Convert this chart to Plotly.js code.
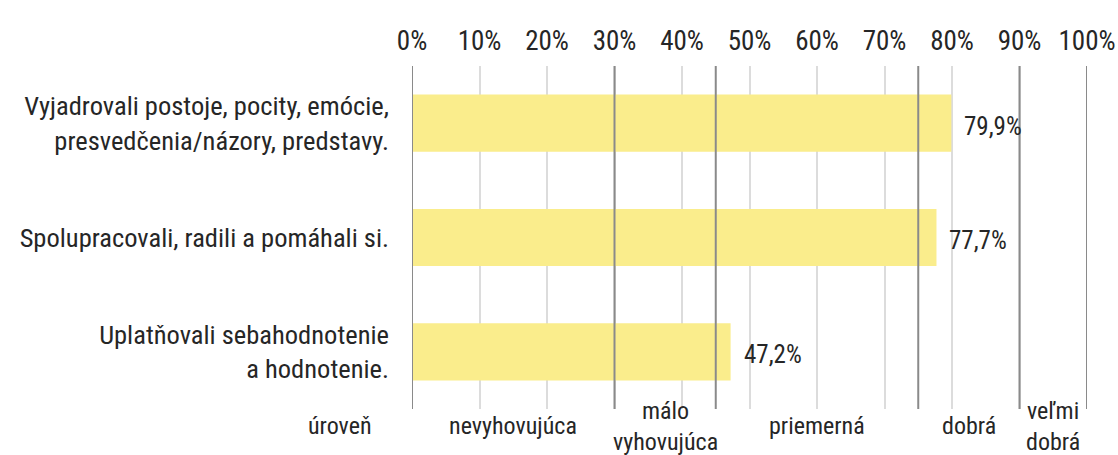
<!DOCTYPE html>
<html>
<head>
<meta charset="utf-8">
<script src="https://cdn.plot.ly/plotly-3.0.1.min.js"></script>
<style>html,body{margin:0;padding:0;background:#fff;}#chart{width:1118px;height:455px;}</style>
</head>
<body>
<div id="chart"></div>
<script>
const categories = [
  "Vyjadrovali postoje, pocity, emócie,<br>presvedčenia/názory, predstavy.",
  "Spolupracovali, radili a pomáhali si.",
  "Uplatňovali sebahodnotenie<br>a hodnotenie."
];
const values = [79.9, 77.7, 47.2];
const valueLabels = ["79,9%", "77,7%", "47,2%"];
const levelBounds = [0, 30, 45, 75, 90, 100];
const levelNames = ["nevyhovujúca", "málo<br>vyhovujúca", "priemerná", "dobrá", "veľmi<br>dobrá"];
const levelTitle = "úroveň";
const xTicks = [0,10,20,30,40,50,60,70,80,90,100];

const FONT = "'Roboto Condensed', 'Liberation Sans Narrow', 'DejaVu Sans Condensed', Roboto, sans-serif";
const TXT = "#262626";

const shapes = levelBounds.map(b => ({
  type: 'line', xref: 'x', yref: 'paper', x0: b, x1: b, y0: 0, y1: 1,
  line: {color: '#8a8a8a', width: 2}, layer: 'above'
}));

const annotations = [];
values.forEach((v, i) => annotations.push({
  x: v, y: categories[i], xref: 'x', yref: 'y', text: valueLabels[i],
  showarrow: false, xanchor: 'left', yanchor: 'middle', xshift: 11, yshift: -3,
  font: {family: FONT, size: 25, color: TXT}
}));
levelNames.forEach((n, i) => annotations.push({
  x: (levelBounds[i] + levelBounds[i+1]) / 2, y: -0.05, xref: 'x', yref: 'paper',
  text: n, showarrow: false, xanchor: 'center', yanchor: 'middle',
  font: {family: FONT, size: 24, color: TXT}
}));
annotations.push({
  x: 0, y: -0.05, xref: 'paper', yref: 'paper', xshift: -38, text: levelTitle, showarrow: false,
  xanchor: 'right', yanchor: 'middle', font: {family: FONT, size: 24, color: TXT}
});

const trace = {
  type: 'bar', orientation: 'h', x: values, y: categories,
  marker: {color: '#FAED8C'}, hoverinfo: 'skip'
};

const layout = {
  width: 1118, height: 455,
  margin: {l: 412, r: 31, t: 66, b: 46},
  paper_bgcolor: '#fff', plot_bgcolor: '#fff',
  bargap: 0.5,
  showlegend: false,
  font: {family: FONT, size: 26, color: TXT},
  xaxis: {
    side: 'top', range: [0, 100], tickvals: xTicks, ticktext: xTicks.map(t => t + '%'),
    showgrid: true, gridcolor: '#dcdcdc', gridwidth: 2, zeroline: false,
    showline: false, ticks: '', ticklabelstandoff: 10,
    tickfont: {family: FONT, size: 27, color: TXT}, fixedrange: true
  },
  yaxis: {
    autorange: 'reversed', showgrid: false, zeroline: false, showline: false,
    ticks: '', ticklabelstandoff: 22,
    tickfont: {family: FONT, size: 26.5, color: TXT}, fixedrange: true
  },
  shapes: shapes,
  annotations: annotations
};

Plotly.newPlot('chart', [trace], layout, {displayModeBar: false, staticPlot: true});
</script>
</body>
</html>
